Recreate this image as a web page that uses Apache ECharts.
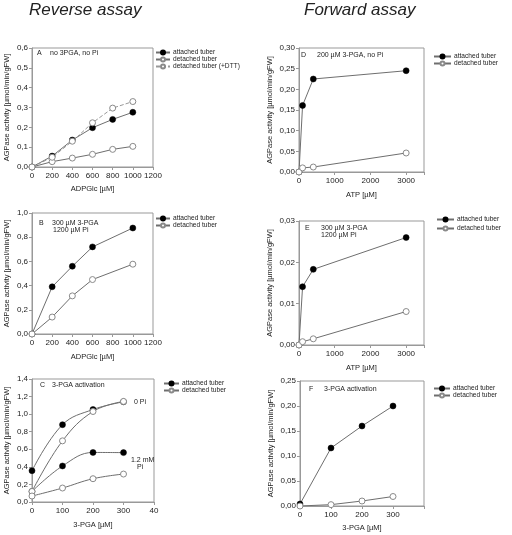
<!DOCTYPE html>
<html><head><meta charset="utf-8">
<script src="https://cdn.jsdelivr.net/npm/echarts@6/dist/echarts.min.js"></script>
<style>html,body{margin:0;padding:0;background:#fff}#c{width:512px;height:535px}</style>
</head><body><div id="c"></div>
<script>
// ---- data ----
const adpglcA = [0, 200, 400, 600, 800, 1000];
const aAttached = [0, 0.055, 0.136, 0.198, 0.240, 0.276];
const aDetached = [0, 0.027, 0.045, 0.064, 0.089, 0.104];
const aDetachedDTT = [0, 0.049, 0.130, 0.223, 0.297, 0.330];
const adpglcB = [0, 200, 400, 600, 1000];
const bAttached = [0, 0.39, 0.56, 0.72, 0.876];
const bDetached = [0, 0.14, 0.315, 0.45, 0.577];
const pgaC = [0, 100, 200, 300];
const cAttached0Pi = [0.356, 0.88, 1.053, 1.14];
const cDetached0Pi = [0.12, 0.696, 1.03, 1.145];
const cAttachedPi = [0.12, 0.41, 0.564, 0.562];
const cDetachedPi = [0.068, 0.159, 0.265, 0.318];
const atp = [0, 100, 400, 3000];
const dAttached = [0, 0.161, 0.225, 0.245];
const dDetached = [0, 0.010, 0.012, 0.046];
const eAttached = [0, 0.0141, 0.0183, 0.026];
const eDetached = [0, 0.0008, 0.0015, 0.0081];
const pgaF = [0, 100, 200, 300];
const fAttached = [0.004, 0.116, 0.160, 0.200];
const fDetached = [0, 0.0027, 0.010, 0.019];

const yName = 'AGPase activity [µmol/min/gFW]';
const FONT = 'Liberation Sans, Arial, sans-serif';
const TXT = '#222';
const LINE = '#6e6e6e';
const OPEN = '#8a8a8a';

const grids = [
  {left: 32, top: 48, width: 121, height: 119},
  {left: 32, top: 213, width: 121, height: 121},
  {left: 32, top: 379, width: 122, height: 123},
  {left: 299, top: 48, width: 125, height: 124},
  {left: 299, top: 221, width: 125, height: 124},
  {left: 300, top: 381, width: 124, height: 125}
].map(g => Object.assign({show: true, borderColor: '#999', borderWidth: 1, backgroundColor: 'transparent'}, g));

function comma(d) { return v => v.toFixed(d).replace('.', ','); }

function xAx(i, max, interval, name, gap, fmt) {
  return {type: 'value', gridIndex: i, min: 0, max: max, interval: interval,
    name: name, nameLocation: 'middle', nameGap: gap,
    nameTextStyle: {fontFamily: FONT, fontSize: 7.5, color: TXT},
    axisLine: {show: true, lineStyle: {color: '#999'}},
    axisTick: {show: true, length: 3, lineStyle: {color: '#999'}},
    axisLabel: {fontFamily: FONT, fontSize: 8, color: TXT, margin: 5, formatter: fmt || (v => String(v))},
    splitLine: {show: false}};
}
function yAx(i, max, interval, dec, gap) {
  return {type: 'value', gridIndex: i, min: 0, max: max, interval: interval,
    name: yName, nameLocation: 'middle', nameGap: gap,
    nameTextStyle: {fontFamily: FONT, fontSize: 7.5, color: TXT},
    axisLine: {show: true, lineStyle: {color: '#999'}},
    axisTick: {show: true, length: 3, lineStyle: {color: '#999'}},
    axisLabel: {fontFamily: FONT, fontSize: 8, color: TXT, margin: 4, formatter: comma(dec)},
    splitLine: {show: false}};
}

const xAxes = [
  xAx(0, 1200, 200, 'ADPGlc [µM]', 18),
  xAx(1, 1200, 200, 'ADPGlc [µM]', 19),
  xAx(2, 400, 100, '3-PGA [µM]', 19, v => v === 400 ? '40' : String(v)),
  xAx(3, 3500, 1000, 'ATP [µM]', 19, v => v > 3000 ? '' : String(v)),
  xAx(4, 3500, 1000, 'ATP [µM]', 19, v => v > 3000 ? '' : String(v)),
  xAx(5, 400, 100, '3-PGA [µM]', 18, v => v > 300 ? '' : String(v))
];
const yAxes = [
  yAx(0, 0.6, 0.1, 1, 21),
  yAx(1, 1.0, 0.2, 1, 21),
  yAx(2, 1.4, 0.2, 1, 21),
  yAx(3, 0.30, 0.05, 2, 25),
  yAx(4, 0.03, 0.01, 2, 25),
  yAx(5, 0.25, 0.05, 2, 25)
];

function pair(xs, ys) { return xs.map((x, k) => [x, ys[k]]); }
function filled(i, name, xs, ys, smooth) {
  return {type: 'line', name: name, xAxisIndex: i, yAxisIndex: i, data: pair(xs, ys),
    smooth: smooth || false, symbol: 'circle', symbolSize: 6, z: 3,
    lineStyle: {color: LINE, width: 1}, itemStyle: {color: '#000', borderColor: '#000', borderWidth: 0.5}};
}
function open(i, name, xs, ys, smooth, dashed) {
  return {type: 'line', name: name, xAxisIndex: i, yAxisIndex: i, data: pair(xs, ys),
    smooth: smooth || false, symbol: 'circle', symbolSize: 6, z: 4,
    lineStyle: {color: dashed ? '#999' : LINE, width: 1, type: dashed ? [4, 2] : 'solid'},
    itemStyle: {color: '#fff', borderColor: OPEN, borderWidth: 1}};
}

const series = [
  filled(0, 'attached tuber', adpglcA, aAttached),
  open(0, 'detached tuber', adpglcA, aDetached),
  open(0, 'detached tuber (+DTT)', adpglcA, aDetachedDTT, false, true),
  filled(1, 'attached tuber', adpglcB, bAttached),
  open(1, 'detached tuber', adpglcB, bDetached),
  filled(2, 'attached tuber', pgaC, cAttached0Pi, 0.4),
  open(2, 'detached tuber', pgaC, cDetached0Pi, 0.4),
  filled(2, 'attached tuber', pgaC, cAttachedPi, 0.4),
  open(2, 'detached tuber', pgaC, cDetachedPi, 0.4),
  filled(3, 'attached tuber', atp, dAttached),
  open(3, 'detached tuber', atp, dDetached),
  filled(4, 'attached tuber', atp, eAttached),
  open(4, 'detached tuber', atp, eDetached),
  filled(5, 'attached tuber', pgaF, fAttached),
  open(5, 'detached tuber', pgaF, fDetached)
];

function leg(left, top, names, w, gap) {
  return {left: left, top: top, orient: 'vertical', itemWidth: w, itemHeight: 5, itemGap: gap || 0,
    padding: 0, selectedMode: false, data: names,
    textStyle: {fontFamily: FONT, fontSize: 6.6, color: TXT, lineHeight: 6, padding: [0, 0, 0, -2]}};
}
const legends = [
  leg(155, 49, ['attached tuber', 'detached tuber', 'detached tuber (+DTT)'], 14),
  leg(155, 215, ['attached tuber', 'detached tuber'], 14),
  leg(163, 380, ['attached tuber', 'detached tuber'], 15),
  leg(433, 53, ['attached tuber', 'detached tuber'], 17),
  leg(436, 216, ['attached tuber', 'detached tuber'], 17, 2),
  leg(433, 385, ['attached tuber', 'detached tuber'], 16)
];

function t(x, y, text, size, extra) {
  return {type: 'text', x: x, y: y, style: Object.assign({text: text, fontFamily: FONT, fontSize: size || 7, fill: TXT, verticalAlign: 'middle'}, extra || {})};
}
const graphics = [
  t(29, 10, 'Reverse assay', 17, {fontStyle: 'italic'}),
  t(304, 10, 'Forward assay', 17, {fontStyle: 'italic'}),
  t(37, 53, 'A'), t(50, 53, 'no 3PGA, no Pi'),
  t(39, 223, 'B'), t(52, 223, '300 µM 3-PGA'), t(53, 230, '1200 µM Pi'),
  t(40, 385, 'C'), t(52, 385, '3-PGA activation'),
  t(134, 402, '0 Pi'), t(131, 460, '1.2 mM'), t(137, 467, 'Pi'),
  t(301, 55, 'D'), t(317, 55, '200 µM 3-PGA, no Pi'),
  t(305, 228, 'E'), t(321, 228, '300 µM 3-PGA'), t(321, 235, '1200 µM Pi'),
  t(309, 389, 'F'), t(324, 389, '3-PGA activation')
];

const chart = echarts.init(document.getElementById('c'), null, {renderer: 'canvas'});
chart.setOption({
  animation: false,
  backgroundColor: '#fff',
  grid: grids, xAxis: xAxes, yAxis: yAxes, series: series,
  legend: legends, graphic: graphics
});
</script></body></html>
